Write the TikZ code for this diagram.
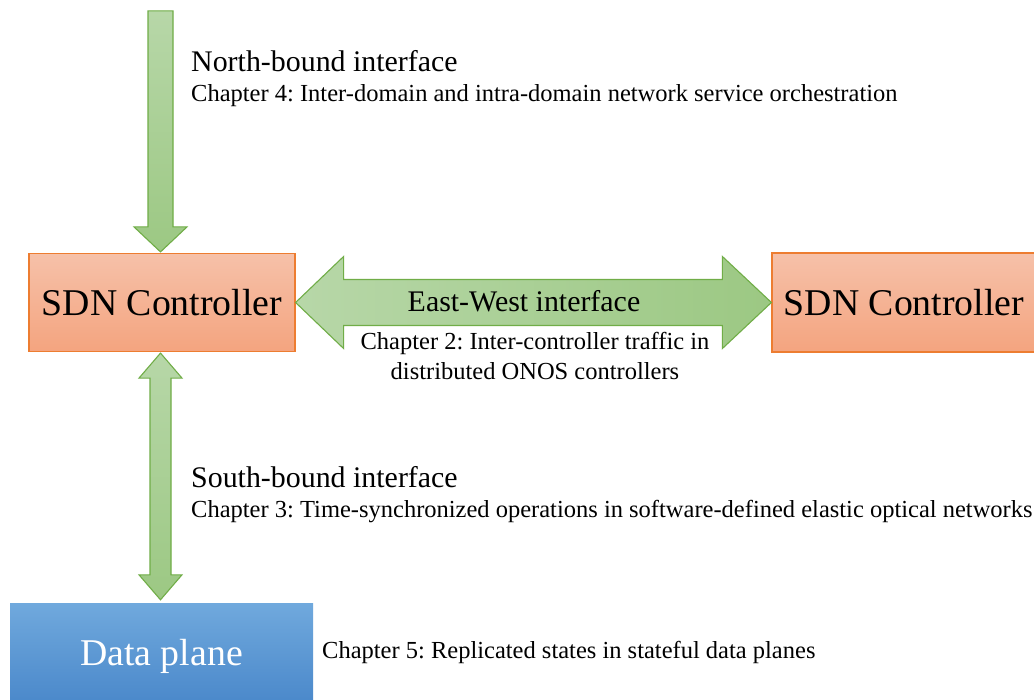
\documentclass[tikz,border=0pt]{standalone}
\usepackage{fontspec}
\setmainfont{Liberation Serif}
\usetikzlibrary{calc}
\frenchspacing
\definecolor{ctrlTop}{HTML}{F6C1A9}
\definecolor{ctrlBot}{HTML}{F4A47F}
\definecolor{ctrlLine}{HTML}{ED7D31}
\definecolor{arrTop}{HTML}{B7D7A8}
\definecolor{arrBot}{HTML}{9CC883}
\definecolor{arrLine}{HTML}{70AD47}
\definecolor{dataTop}{HTML}{70A9DD}
\definecolor{dataBot}{HTML}{4886C9}
\tikzset{
  ctrlbox/.style={draw=ctrlLine, line width=1.2pt, top color=ctrlTop, bottom color=ctrlBot,
    minimum height=98pt, inner sep=0pt, font=\fontsize{37.8}{40}\selectfont},
  databox/.style={draw=none, top color=dataTop, bottom color=dataBot, text=white,
    inner sep=0pt, font=\fontsize{37.8}{40}\selectfont},
  fatarrow/.style={draw=arrLine, line width=1.1pt, line join=miter},
  title/.style={inner sep=0pt, font=\fontsize{29.9}{32}\selectfont},
  chap/.style={inner sep=0pt, font=\fontsize{24.5}{28}\selectfont},
}
\begin{document}
\frenchspacing
\begin{tikzpicture}[x=1pt, y=-1pt]
\useasboundingbox (0,0) rectangle (1034,700);
\clip (0,0) rectangle (1034,700);
\fill[white] (0,0) rectangle (1034,700);

% boxes
\node[ctrlbox, minimum width=266pt] (ctrlL) at (162,302.5) {SDN Controller};
\node[ctrlbox, minimum width=264pt, minimum height=99pt] (ctrlR) at (904,302.5) {SDN Controller};
\node[databox, minimum width=303pt, minimum height=107pt] (data) at (161.5,656.5) {Data plane};

% north-bound arrow (into the controller)
\coordinate (nTip) at ($(ctrlL.north)+(-1.5,-1)$);
\draw[fatarrow, top color=arrTop, bottom color=arrBot]
  (nTip) -- ++(-26.5,-25) -- ++(14,0) -- ++(0,-216) -- ++(25,0) -- ++(0,216) -- ++(14,0) -- cycle;

% east-west double arrow
\draw[fatarrow, left color=arrTop, right color=arrBot]
  (ctrlL.east) -- ++(48,-46) -- ++(0,23) -- ($(ctrlR.west)+(-49,-23)$) -- ++(0,-23)
  -- (ctrlR.west) -- ++(-49,46) -- ++(0,-23) -- ($(ctrlL.east)+(48,23)$) -- ++(0,23) -- cycle;

% south-bound double arrow
\coordinate (sTop) at ($(ctrlL.south)+(-1.5,1)$);
\coordinate (sBot) at ($(data.north)+(-1,-3)$);
\draw[fatarrow, top color=arrTop, bottom color=arrBot]
  (sTop) -- ++(21.5,25) -- ++(-11,0) -- ($(sBot)+(10.5,-25)$) -- ++(11,0)
  -- (sBot) -- ++(-21.5,-25) -- ++(11,0) -- ($(sTop)+(-10.5,25)$) -- ++(-11,0) -- cycle;

% labels
\node[title, anchor=base west] (nbT) at (191,72) {North-bound interface};
\node[chap, anchor=base west] (nbC) at (191,102) {Chapter 4: Inter-domain and intra-domain network service orchestration};
\node[title, anchor=base] (ewT) at (524,312) {East-West interface};
\node[chap, anchor=base] (ewC1) at (535,350) {Chapter 2: Inter-controller traffic in};
\node[chap, anchor=base] (ewC2) at (535,380) {distributed ONOS controllers};
\node[title, anchor=base west] (sbT) at (191,487) {South-bound interface};
\node[chap, anchor=base west] (sbC) at (191,517) {Chapter 3: Time-synchronized operations in software-defined elastic optical networks};
\node[chap, anchor=base west] (dpC) at (322,658) {Chapter 5: Replicated states in stateful data planes};
\end{tikzpicture}
\end{document}
